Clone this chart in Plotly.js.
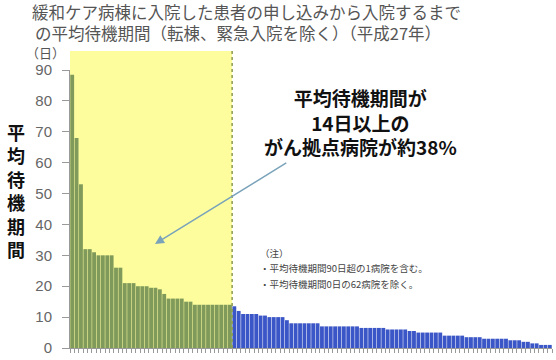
<!DOCTYPE html>
<html>
<head>
<meta charset="utf-8">
<script src="https://cdn.plot.ly/plotly-3.0.1.min.js"></script>
<style>html,body{margin:0;padding:0;background:#fff;}#chart{width:556px;height:360px;}</style>
</head>
<body>
<div id="chart"></div>
<script>
// Hospitals with average waiting period >= 14 days (green, highlighted)
const longWaitDays = [88.5, 68, 53, 32, 32, 31, 30, 30, 30, 30, 26, 26, 21, 21, 21, 20, 20, 20, 19.5, 19.5, 19, 17.5,
  16, 16, 16, 16, 15, 15, 14, 14, 14, 14, 14, 14, 14, 14, 14];
// Remaining hospitals (blue)
const shortWaitDays = [13.5, 12, 11, 11, 11, 11, 10.5, 10.5, 10, 10, 10, 10, 9,
  8, 8, 8, 8, 8, 8, 8,
  7, 7, 7, 7, 7, 7, 7, 7, 7, 6.5, 6.5, 6.5, 6.5, 6.5, 6.5,
  6, 6, 6, 6, 6, 5.5, 5.5,
  5, 5, 5, 5, 5, 5, 4, 4, 4, 4, 4, 3.5, 3.5, 3.5, 3.5,
  3, 3, 3, 3, 3, 3, 2.5, 2.5, 2.5, 2, 2, 1.5, 1.5, 1, 1, 1];
const yTickVals = [0, 10, 20, 30, 40, 50, 60, 70, 80, 90];
const titleLines = ['緩和ケア病棟に入院した患者の申し込みから入院するまで', 'の平均待機期間（転棟、緊急入院を除く）（平成27年）'];
const yTitleText = '平均待機期間';
const unitText = '（日）';
const calloutLines = ['平均待機期間が', '14日以上の', 'がん拠点病院が約38%'];
const noteLines = ['（注）', '・平均待機期間90日超の1病院を含む。', '・平均待機期間0日の62病院を除く。'];

const nLong = longWaitDays.length;
const nShort = shortWaitDays.length;
const nAll = nLong + nShort;
const xLong = longWaitDays.map((v, i) => i + 1);
const xShort = shortWaitDays.map((v, i) => nLong + i + 1);

const font = '"Noto Sans CJK JP", "Noto Sans", sans-serif';

const traces = [
  {type: 'bar', x: xLong, y: longWaitDays, marker: {color: '#7f9a5a'}, hoverinfo: 'y'},
  {type: 'bar', x: xShort, y: shortWaitDays, marker: {color: '#3b56c6'}, hoverinfo: 'y'}
];

const layout = {
  width: 556, height: 360,
  margin: {l: 70, r: 4, t: 70, b: 12},
  paper_bgcolor: '#ffffff', plot_bgcolor: 'rgba(0,0,0,0)',
  showlegend: false,
  bargap: 0.12,
  font: {family: font, color: '#555'},
  xaxis: {
    range: [0.5, nAll + 0.5],
    showgrid: false, zeroline: false,
    showline: true, linecolor: '#999', linewidth: 1,
    tickmode: 'linear', tick0: 0.5, dtick: 1,
    ticks: 'outside', ticklen: 4, tickcolor: '#999',
    showticklabels: false, fixedrange: true
  },
  yaxis: {
    range: [0, 90],
    tickvals: yTickVals,
    showgrid: false, zeroline: false,
    showline: true, linecolor: '#999', linewidth: 1,
    ticks: 'outside', ticklen: 7, tickcolor: '#999',
    ticklabelstandoff: 7,
    tickfont: {family: '"Liberation Sans", Arial, sans-serif', size: 15, color: '#666'},
    fixedrange: true
  },
  shapes: [
    {type: 'rect', xref: 'x', yref: 'paper', x0: 0.5, x1: nLong + 0.5, y0: 0, y1: 1.068,
     fillcolor: '#fdfd9e', line: {width: 0}, layer: 'below'},
    {type: 'line', xref: 'x', yref: 'paper', x0: nLong + 0.5, x1: nLong + 0.5, y0: 0, y1: 1.068,
     line: {color: '#8a9a50', width: 1.5, dash: 'dot'}, layer: 'above'}
  ],
  annotations: [
    {xref: 'paper', yref: 'paper', x: -0.083, y: 1.207, xanchor: 'left', yanchor: 'middle',
     text: titleLines[0], showarrow: false, font: {family: font, size: 16.5, color: '#555'}},
    {xref: 'paper', yref: 'paper', x: -0.077, y: 1.133, xanchor: 'left', yanchor: 'middle',
     text: titleLines[1], showarrow: false, font: {family: font, size: 16.5, color: '#555'}},
    {xref: 'paper', yref: 'paper', x: -0.112, y: 0.567, xanchor: 'center', yanchor: 'middle',
     text: '<b>' + yTitleText.split('').join('<br>') + '</b>', showarrow: false,
     font: {family: font, size: 18, color: '#111'}},
    {xref: 'paper', yref: 'paper', x: -0.05, y: 1.062, xanchor: 'center', yanchor: 'middle',
     text: unitText, showarrow: false, font: {family: font, size: 13, color: '#555'}},
    {xref: 'paper', yref: 'paper', x: 0.602, y: 0.813, xanchor: 'center', yanchor: 'middle',
     text: '<b>' + calloutLines.join('<br>') + '</b>', showarrow: false, align: 'center',
     font: {family: font, size: 19, color: '#111'}},
    {xref: 'x', yref: 'y', x: 19.9, y: 33.7, axref: 'x', ayref: 'y', ax: 50.2, ay: 60.2,
     text: '', showarrow: true, arrowhead: 2, arrowsize: 1.2, arrowwidth: 1.5, arrowcolor: '#7aa3ba'},
    {xref: 'paper', yref: 'paper', x: 0.39, y: 0.342, xanchor: 'left', yanchor: 'middle',
     text: noteLines[0], showarrow: false, font: {family: font, size: 9.5, color: '#444'}},
    {xref: 'paper', yref: 'paper', x: 0.39, y: 0.288, xanchor: 'left', yanchor: 'middle',
     text: noteLines[1], showarrow: false, font: {family: font, size: 9.5, color: '#444'}},
    {xref: 'paper', yref: 'paper', x: 0.39, y: 0.230, xanchor: 'left', yanchor: 'middle',
     text: noteLines[2], showarrow: false, font: {family: font, size: 9.5, color: '#444'}}
  ]
};

Plotly.newPlot('chart', traces, layout, {staticPlot: true, displayModeBar: false});
</script>
</body>
</html>
